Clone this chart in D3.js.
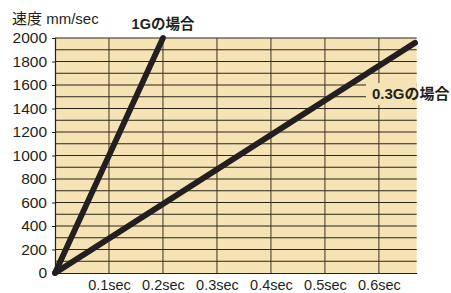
<!DOCTYPE html>
<html>
<head>
<meta charset="utf-8">
<script src="https://cdn.jsdelivr.net/npm/d3@7"></script>
<style>
  body { margin: 0; background: #fff; }
  svg { display: block; }
  text { font-family: "Liberation Sans", Arial, "Noto Sans CJK JP", sans-serif; fill: #231f20; }
</style>
</head>
<body>
<svg id="chart" width="451" height="293"></svg>
<script>
// chart values
const timeTicks = [0.1, 0.2, 0.3, 0.4, 0.5, 0.6];
const speedTicks = [0, 200, 400, 600, 800, 1000, 1200, 1400, 1600, 1800, 2000];
const speedGrid = d3.range(100, 2001, 100);
const seriesNames = ["1Gの場合", "0.3Gの場合"];
const oneGTime = [0, 0.2];
const oneGSpeed = [0, 2000];
const lowGTime = [0, 0.667];
const lowGSpeed = [0, 1960];
const yTitle = "速度 mm/sec";

const svg = d3.select("#chart");
const plotFill = "#f5e3b6";
const ink = "#231f20";
const labelFont = "'Liberation Sans', Arial, 'Noto Sans CJK JP', sans-serif";

const x = d3.scaleLinear().domain([0, 0.67]).range([55, 416.7]);
const y = d3.scaleLinear().domain([0, 2000]).range([273, 38]);

// plot background
svg.append("rect")
    .attr("x", x(0))
    .attr("y", y(2000))
    .attr("width", x(0.67) - x(0))
    .attr("height", y(0) - y(2000))
    .attr("fill", plotFill);

// grid
svg.append("g")
    .selectAll("line")
    .data(speedGrid)
    .enter()
    .append("line")
    .attr("x1", x(0))
    .attr("x2", x(0.67))
    .attr("y1", d => y(d))
    .attr("y2", d => y(d))
    .attr("stroke", "#2a2418")
    .attr("stroke-width", 1);

svg.append("g")
    .selectAll("line")
    .data(timeTicks)
    .enter()
    .append("line")
    .attr("x1", d => x(d))
    .attr("x2", d => x(d))
    .attr("y1", y(2000))
    .attr("y2", y(0))
    .attr("stroke", "#3a3020")
    .attr("stroke-width", 1);

// axes
const yAxis = d3.axisLeft(y).tickValues(speedTicks).tickSize(3).tickPadding(5)
    .tickFormat(d3.format("d"));
const yG = svg.append("g").attr("transform", "translate(" + x(0) + ",0)").call(yAxis);
yG.select(".domain").attr("stroke", ink).attr("stroke-width", 1.2);
yG.selectAll(".tick line").attr("stroke", ink);
yG.selectAll(".tick text").attr("font-size", 15.5).attr("fill", ink)
    .style("font-family", labelFont);

const xAxis = d3.axisBottom(x).tickValues(timeTicks).tickSize(0).tickPadding(7)
    .tickFormat(d => d3.format(".1f")(d) + "sec");
const xG = svg.append("g").attr("transform", "translate(0," + y(0) + ")").call(xAxis);
xG.select(".domain").attr("stroke", ink).attr("stroke-width", 1.2);
xG.selectAll(".tick text").attr("font-size", 14.5).attr("fill", ink)
    .style("font-family", labelFont);

// label patch for 0.3G label
svg.append("rect")
    .attr("x", 366)
    .attr("y", 83)
    .attr("width", x(0.67) - 366)
    .attr("height", 22)
    .attr("fill", plotFill);

// lines
const line = d3.line()
    .x(d => x(d[0]))
    .y(d => y(d[1]));

const seriesData = [
    d3.zip(oneGTime, oneGSpeed),
    d3.zip(lowGTime, lowGSpeed)
];

svg.append("g")
    .selectAll("path")
    .data(seriesData)
    .enter()
    .append("path")
    .attr("d", d => line(d))
    .attr("fill", "none")
    .attr("stroke", ink)
    .attr("stroke-width", 5.8)
    .attr("stroke-linecap", "round")
    .attr("stroke-linejoin", "miter");

// series labels
svg.append("text")
    .attr("x", 163)
    .attr("y", 29)
    .attr("text-anchor", "middle")
    .attr("font-size", 14.5)
    .attr("font-weight", "bold")
    .text(seriesNames[0]);

svg.append("text")
    .attr("x", 372)
    .attr("y", 99)
    .attr("font-size", 15)
    .attr("font-weight", "bold")
    .text(seriesNames[1]);

// y title
svg.append("text")
    .attr("x", 12)
    .attr("y", 24)
    .attr("font-size", 15)
    .text(yTitle);
</script>
</body>
</html>
